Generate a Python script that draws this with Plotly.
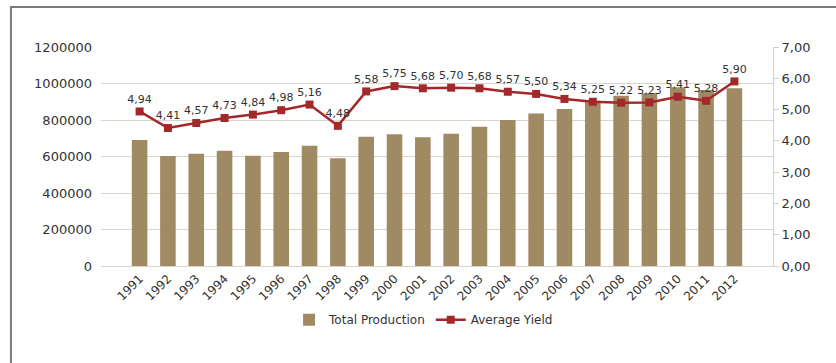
import plotly.graph_objects as go

years = [str(y) for y in range(1991, 2013)]
total_production = [690000, 603000, 615000, 632000, 604000, 625000, 659000, 590000,
                    708000, 722000, 706000, 725000, 763000, 800000, 835000, 860000,
                    905000, 933000, 946000, 979000, 964000, 974000]
average_yield = [4.94, 4.41, 4.57, 4.73, 4.84, 4.98, 5.16, 4.48, 5.58, 5.75, 5.68,
                 5.70, 5.68, 5.57, 5.50, 5.34, 5.25, 5.22, 5.23, 5.41, 5.28, 5.90]
left_ticks = [0, 200000, 400000, 600000, 800000, 1000000, 1200000]
right_ticks = [0, 1, 2, 3, 4, 5, 6, 7]

font_family = "DejaVu Sans"
text_color = "#333333"
bar_color = "#a08a64"
line_color = "#a3282a"
grid_color = "#dcd3ca"

labels = [f"{v:.2f}".replace(".", ",") for v in average_yield]

fig = go.Figure()
fig.add_trace(go.Bar(
    x=years, y=total_production, name="Total Production",
    marker=dict(color=bar_color, line=dict(width=0)),
))
fig.add_trace(go.Scatter(
    x=years, y=average_yield, name="Average Yield", yaxis="y2",
    mode="lines+markers+text",
    line=dict(color=line_color, width=2.5),
    marker=dict(symbol="square", size=8, color=line_color),
    text=labels, textposition="top center",
    textfont=dict(family=font_family, size=11, color=text_color),
))

fig.update_layout(
    width=836, height=363,
    margin=dict(l=101, r=63, t=47, b=97),
    paper_bgcolor="white", plot_bgcolor="white",
    separators=",.",
    bargap=0.45,
    font=dict(family=font_family, size=13, color=text_color),
    showlegend=True,
    legend=dict(orientation="h", x=0.48, xanchor="center", y=-0.245, yanchor="middle",
                font=dict(family=font_family, size=12, color=text_color),
                itemwidth=30, bgcolor="rgba(0,0,0,0)"),
    xaxis=dict(tickangle=-45, showgrid=False, showline=True, linecolor=grid_color,
               linewidth=1, ticks="", tickfont=dict(size=12)),
    yaxis=dict(range=[0, 1200000], tickvals=left_ticks, tickformat="d",
               showgrid=True, gridcolor=grid_color, gridwidth=1,
               zeroline=False, showline=False, ticks="",
               ticklabelstandoff=8, tickfont=dict(size=13)),
    yaxis2=dict(range=[0, 7], tickvals=right_ticks, tickformat=".2f",
                overlaying="y", side="right", showgrid=False, zeroline=False,
                showline=True, linecolor="#cfcfcf", linewidth=1,
                ticks="outside", ticklen=5, tickcolor="#cfcfcf",
                tickfont=dict(size=13)),
    shapes=[dict(type="rect", xref="paper", yref="paper",
                 x0=-0.134, x1=1.3, y0=-0.6, y1=1.183,
                 line=dict(color="#7a7a7a", width=2), fillcolor="rgba(0,0,0,0)",
                 layer="above")],
)

fig.write_html("out.html")
